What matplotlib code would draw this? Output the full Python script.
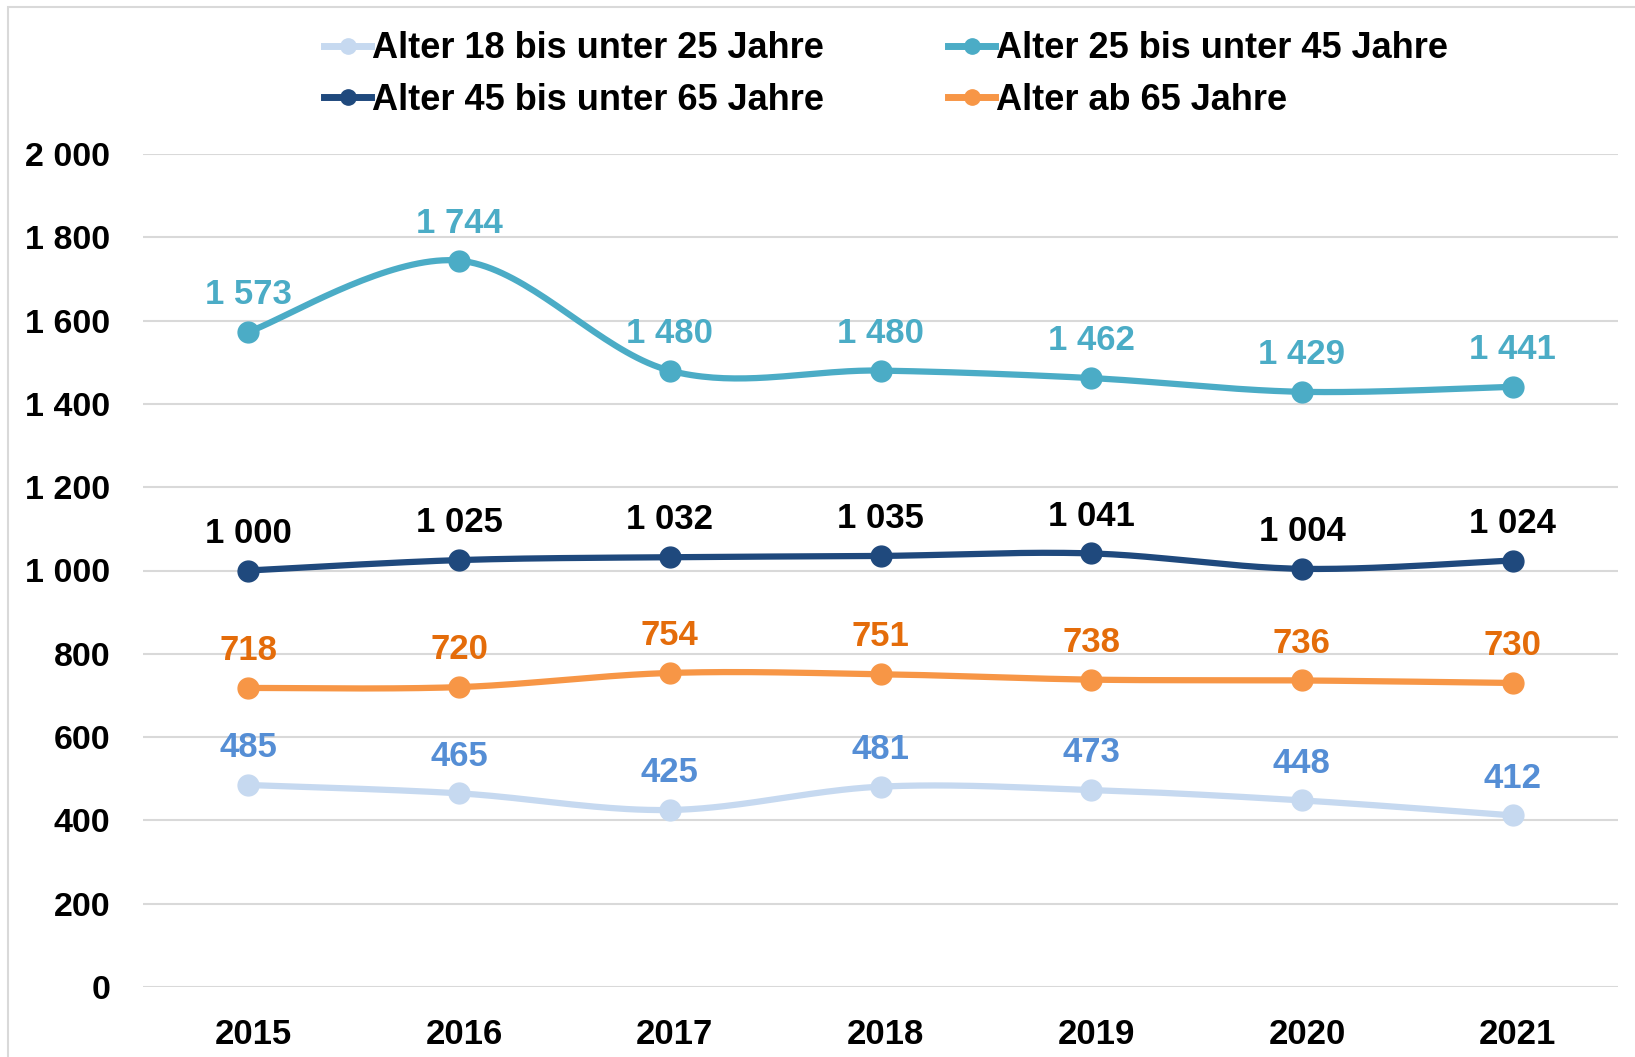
import numpy as np
import matplotlib
matplotlib.use("Agg")
import matplotlib.pyplot as plt
from matplotlib.lines import Line2D
from matplotlib.patches import Rectangle
import matplotlib.transforms as mtransforms

plt.rcParams['font.family'] = ['Liberation Sans', 'DejaVu Sans']
plt.rcParams['font.weight'] = 'bold'

years = ['2015', '2016', '2017', '2018', '2019', '2020', '2021']
series_names = ['Alter 18 bis unter 25 Jahre', 'Alter 25 bis unter 45 Jahre',
                'Alter 45 bis unter 65 Jahre', 'Alter ab 65 Jahre']
age_18_25 = [485, 465, 425, 481, 473, 448, 412]
age_25_45 = [1573, 1744, 1480, 1480, 1462, 1429, 1441]
age_45_65 = [1000, 1025, 1032, 1035, 1041, 1004, 1024]
age_65_plus = [718, 720, 754, 751, 738, 736, 730]
y_ticks = [0, 200, 400, 600, 800, 1000, 1200, 1400, 1600, 1800, 2000]

line_colors = ['#C6D9F0', '#4BACC6', '#1F497D', '#F79646']
label_colors = ['#558ED5', '#4BACC6', '#000000', '#E46C0A']
data = [age_18_25, age_25_45, age_45_65, age_65_plus]


def fmt(v):
    return f"{v:,}".replace(",", " ")


def smooth(xs, ys, n=40):
    xs = np.asarray(xs, float)
    ys = np.asarray(ys, float)
    px = np.concatenate([[xs[0]], xs, [xs[-1]]])
    py = np.concatenate([[ys[0]], ys, [ys[-1]]])
    outx, outy = [], []
    t = np.linspace(0, 1, n)
    for i in range(1, len(px) - 2):
        p0 = np.array([px[i], py[i]])
        p3 = np.array([px[i + 1], py[i + 1]])
        p1 = p0 + (np.array([px[i + 1], py[i + 1]]) - np.array([px[i - 1], py[i - 1]])) / 6
        p2 = p3 - (np.array([px[i + 2], py[i + 2]]) - np.array([px[i], py[i]])) / 6
        b = ((1 - t) ** 3)[:, None] * p0 + (3 * (1 - t) ** 2 * t)[:, None] * p1 + \
            (3 * (1 - t) * t ** 2)[:, None] * p2 + (t ** 3)[:, None] * p3
        outx.extend(b[:, 0]); outy.extend(b[:, 1])
    return np.array(outx), np.array(outy)


W, H = 1635, 1057
fig = plt.figure(figsize=(W / 100, H / 100), dpi=100)
ax = fig.add_axes([143 / W, 70 / H, 1475 / W, 833 / H])

x = np.arange(len(years))
for vals, lc, tc in zip(data, line_colors, label_colors):
    sx, sy = smooth(x, vals)
    ax.plot(sx, sy, color=lc, lw=4.5, solid_capstyle='round', zorder=3)
    ax.plot(x, vals, 'o', color=lc, ms=15, zorder=4)
    for xi, v in zip(x, vals):
        ax.annotate(fmt(v), (xi, v), xytext=(0, 20), textcoords='offset points',
                    ha='center', va='baseline', fontsize=25, fontweight='bold',
                    color=tc, zorder=5)

ax.set_xlim(-0.5, len(years) - 0.5)
ax.set_ylim(0, 2000)
ax.set_yticks(y_ticks)
ax.set_yticklabels([fmt(v) for v in y_ticks])
ax.set_xticks(x)
ax.set_xticklabels(years)
ax.tick_params(axis='y', length=0, pad=23.5, labelsize=24.5)
ax.tick_params(axis='x', length=0, pad=22, labelsize=25)
for lab in ax.get_xticklabels() + ax.get_yticklabels():
    lab.set_fontweight('bold')
offset = mtransforms.ScaledTranslation(5 / 100, 0, fig.dpi_scale_trans)
for lab in ax.get_xticklabels():
    lab.set_transform(lab.get_transform() + offset)
for s in ax.spines.values():
    s.set_visible(False)
ax.grid(axis='y', color='#D9D9D9', lw=1.5)
ax.set_axisbelow(True)

handles = [Line2D([], [], color=c, lw=5, marker='o', ms=11) for c in line_colors]
order = [0, 2, 1, 3]
leg = fig.legend([handles[i] for i in order], [series_names[i] for i in order],
                 ncol=2, loc='center', bbox_to_anchor=(0.542, 1 - 74.5 / H),
                 frameon=False, borderpad=0, borderaxespad=0,
                 handlelength=1.3, handletextpad=0.02, columnspacing=3.45,
                 labelspacing=0.45, prop={'size': 26, 'weight': 'bold'})

fig.patches.append(Rectangle((8 / W, -0.01), 1.1, 1 - 7 / H + 0.01, transform=fig.transFigure,
                             fill=False, edgecolor='#D9D9D9', lw=1.5))

fig.savefig('out.png', dpi=100)
